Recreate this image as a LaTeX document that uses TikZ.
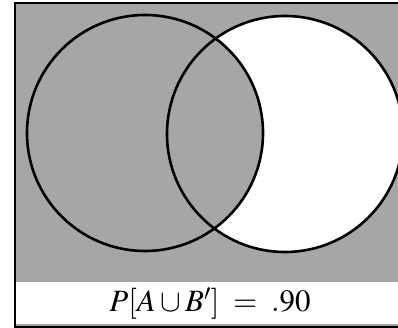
\documentclass[tikz,border=0pt]{standalone}
\usepackage{mathptmx}
\usepackage{tikz}
\usetikzlibrary{positioning}
\definecolor{venngray}{HTML}{A6A6A6}

\begin{document}
\begin{tikzpicture}[
  x=1pt, y=1pt,
  venn/.style={circle, draw=black, line width=2.6pt, inner sep=0pt,
               minimum size=236pt},
  frame/.style={draw=black, line width=2.4pt},
  prob/.style={font=\fontsize{31}{37}\selectfont, anchor=base},
]
  \useasboundingbox (0,0) rectangle (398,328);
  % background and label strip
  \fill[venngray] (15,1) rectangle (405,325);
  \fill[white] (15,4) rectangle (405,46);
  % B minus A stays white
  \fill[white] (285,194) circle (118);
  \fill[venngray] (145,195) circle (118);
  \node[venn] (A) at (145,195) {};
  \node[venn] (B) at (285,194) {};
  \draw[frame] (15,1) rectangle (405,325);
  \node[prob] (result) at (210,16) {$P[A \cup B'] \;=\; .90$};
\end{tikzpicture}
\end{document}
